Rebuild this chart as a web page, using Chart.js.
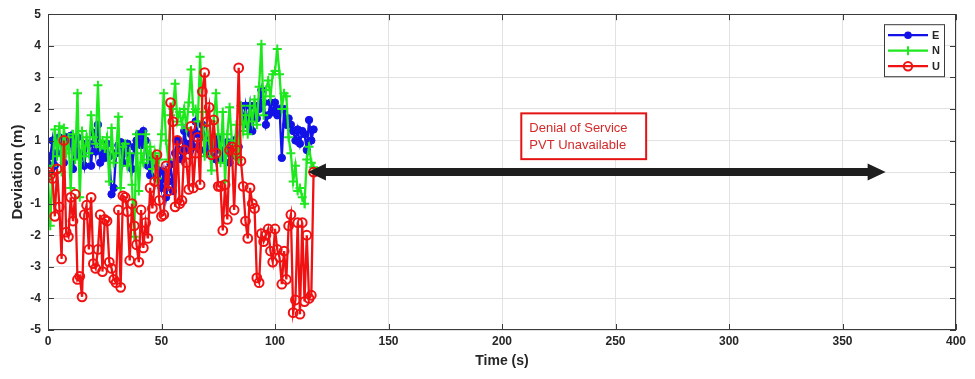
<!DOCTYPE html>
<html>
<head>
<meta charset="utf-8">
<script src="https://cdn.jsdelivr.net/npm/chart.js@4.4.1/dist/chart.umd.min.js"></script>
<style>
  html, body { margin: 0; padding: 0; background: #ffffff; }
  #wrap { width: 975px; height: 379px; }
</style>
</head>
<body>
<div id="wrap"><canvas id="chart" width="975" height="379"></canvas></div>
<script>
// Epoch times (s) of the PVT solutions before the jamming outage
const timeS = [
  0, 1, 2, 3, 4, 5, 6, 7, 8, 9,
  10, 11, 12, 13, 14, 15, 16, 17, 18, 19,
  20, 21, 22, 23, 24, 25, 26, 27, 28, 29,
  30, 31, 32, 33, 34, 35, 36, 37, 38, 39,
  40, 41, 42, 43, 44, 45, 46, 47, 48, 49,
  50, 51, 52, 53, 54, 55, 56, 57, 58, 59,
  60, 61, 62, 63, 64, 65, 66, 67, 68, 69,
  70, 71, 72, 73, 74, 75, 76, 77, 78, 79,
  80, 81, 82, 83, 84, 85, 86, 87, 88, 89,
  90, 91, 92, 93, 94, 95, 96, 97, 98, 99,
  100, 101, 102, 103, 104, 105, 106, 107, 108, 109,
  110, 111, 112, 113, 114, 115, 116, 117
];

// East deviation (m)
const devE = [
  0.25, 0.5, 1.0, 0.2, 0.6, 1.1, 1.05, 0.3, 1.1, 0.9,
  1.15, 0.1, 0.7, 1.1, 0.5, 0.6, 0.2, 0.9, 0.9, 0.2,
  1.25, 0.65, 1.5, 0.3, 0.6, 0.45, 0.9, 0.5, -0.7, -0.5,
  0.6, 0.85, 0.95, 0.3, 0.7, 0.9, 0.5, 0.1, 0.8, 1.0,
  1.2, 0.85, 1.3, 1.0, 0.2, -0.1, 0.4, 0.3, -0.2, 0.05,
  -0.5, 0.0, -0.8, -0.3, 0.25, -0.6, 0.6, 1.0, 0.7, 0.4,
  1.3, 0.9, 0.7, 1.2, 0.8, 1.6, 1.2, 0.7, 1.5, 1.1,
  0.6, 0.9, 0.5, 0.9, 0.4, 1.05, 0.7, 0.4, 0.6, 0.95,
  0.3, 0.7, 1.0, 0.5, 0.8, 2.1, 1.6, 2.1, 1.5, 2.1,
  1.3, 2.1, 1.7, 2.0, 2.6, 2.2, 1.5, 1.8, 2.2, 1.9,
  2.2, 1.8, 2.0, 0.45, 2.0, 1.5, 1.7, 1.5, 1.3, 1.0,
  1.35, 0.9, 1.3, 1.2, 0.7, 1.65, 1.0, 1.35
];

// North deviation (m)
const devN = [
  -0.2, -1.7, 0.2, 1.35, 0.5, 1.45, 0.0, 1.4, 0.6, 1.1,
  -0.5, 1.2, 0.4, 2.5, -0.8, 1.3, 0.5, 1.1, 0.6, 1.8,
  1.1, 0.9, 2.75, 0.8, 1.0, 0.75, 1.1, -0.3, 1.4, 0.3,
  0.6, 1.75, -0.5, 0.8, 0.9, 0.2, 0.6, -0.4, -2.05, 1.2,
  -0.6, 0.6, 0.3, 1.2, 0.4, 0.8, 0.1, 0.6, -0.2, 0.4,
  1.2, 2.5, 1.0, 0.4, 1.8, 2.0, 2.8, 1.6, 1.9, 1.5,
  2.0, 1.4, 2.2, 3.25, 1.9, 2.0, 1.6, 3.65, 1.9, 0.5,
  1.5, 1.0, 0.05, 1.6, 2.5, 1.2, 0.3, 1.9, -0.3, 1.2,
  2.05, 1.0, 0.6, 1.5, 0.4, 2.1, 1.3, 1.8, 1.2, 2.1,
  1.6, 2.3, 1.5, 2.7, 4.05, 1.8, 2.6, 2.9, 2.4, 3.1,
  3.2, 3.9, 3.1, 2.0, 2.5, 2.4, 1.1, 0.6, -0.3, 0.2,
  -0.6, -0.5, -0.8, -1.0, 0.4, 0.8, 0.3, 0.15
];

// Up deviation (m)
const devU = [
  0.0, -0.1, -0.2, -1.4, 0.1, -1.1, -2.75, 1.0, -1.9, -2.05,
  -0.8, -1.55, -0.7, -3.4, -3.3, -3.95, -1.35, -1.05, -2.45, -0.8,
  -2.9, -3.05, -2.45, -1.35, -3.15, -1.5, -1.55, -2.85, -3.05, -3.4,
  -3.5, -1.2, -3.65, -0.75, -0.8, -1.25, -2.8, -1.0, -1.7, -2.3,
  -2.85, -1.2, -2.4, -1.6, -2.1, -0.5, -1.15, -0.3, 0.55, -0.9,
  -1.4, -1.35, 0.2, -0.6, 2.2, 1.6, -1.1, 1.0, -1.0, -0.9,
  0.7, 0.3, -0.55, 1.45, -0.5, 0.6, 1.1, -0.4, 2.55, 3.15,
  1.6, 2.05, 0.55, 1.65, 0.6, -0.45, -0.45, -1.85, -0.4, -1.5,
  0.7, 0.8, -1.2, 0.7, 3.3, 0.35, -0.45, -1.55, -2.1, -0.5,
  -1.0, -1.15, -3.35, -3.5, -1.95, -2.2, -2.0, -1.8, -2.5, -2.85,
  -1.8, -2.45, -2.7, -3.55, -2.5, -3.4, -1.7, -1.35, -4.45, -4.05,
  -1.6, -4.5, -1.6, -4.1, -2.0, -4.0, -3.9, 0.0
];

const xTickValues = [0, 50, 100, 150, 200, 250, 300, 350, 400];
const yTickValues = [-5, -4, -3, -2, -1, 0, 1, 2, 3, 4, 5];
const seriesNames = ['E', 'N', 'U'];
const outageNote = ['Denial of Service', 'PVT Unavailable'];
const outageStart = 114.5;   // s, last fix
const outageEnd = 369;       // s

const FONT = '"Liberation Sans", Arial, Helvetica, sans-serif';
const INK = '#262626';
const colE = '#1212e8';
const colN = '#1ee81e';
const colU = '#f01212';

const toXY = ys => ys.map((y, i) => ({ x: timeS[i], y }));

// Box, inward ticks, legend, outage arrow and note
const decorations = {
  id: 'decorations',
  afterDatasetsDraw(chart) {
    const { ctx, chartArea: a, scales: { x, y } } = chart;
    ctx.save();

    // double-headed outage arrow along y = 0
    const ay = y.getPixelForValue(0);
    const x1 = x.getPixelForValue(outageStart);
    const x2 = x.getPixelForValue(outageEnd);
    const hl = 18, hh = 8.5, sh = 4;
    ctx.fillStyle = '#1e1e1e';
    ctx.beginPath();
    ctx.moveTo(x1, ay);
    ctx.lineTo(x1 + hl, ay - hh);
    ctx.lineTo(x1 + hl, ay - sh);
    ctx.lineTo(x2 - hl, ay - sh);
    ctx.lineTo(x2 - hl, ay - hh);
    ctx.lineTo(x2, ay);
    ctx.lineTo(x2 - hl, ay + hh);
    ctx.lineTo(x2 - hl, ay + sh);
    ctx.lineTo(x1 + hl, ay + sh);
    ctx.lineTo(x1 + hl, ay + hh);
    ctx.closePath();
    ctx.fill();

    // outage note
    const bx1 = x.getPixelForValue(208.5), bx2 = x.getPixelForValue(263.5);
    const by1 = y.getPixelForValue(1.86), by2 = y.getPixelForValue(0.41);
    ctx.fillStyle = '#ffffff';
    ctx.fillRect(bx1, by1, bx2 - bx1, by2 - by1);
    ctx.strokeStyle = '#e41414';
    ctx.lineWidth = 2;
    ctx.strokeRect(bx1, by1, bx2 - bx1, by2 - by1);
    ctx.fillStyle = '#d42a2a';
    ctx.font = '13px ' + FONT;
    ctx.textAlign = 'left';
    ctx.textBaseline = 'middle';
    outageNote.forEach((t, i) => ctx.fillText(t, bx1 + 8, by1 + 15 + i * 17));

    // axes box
    ctx.strokeStyle = '#3a3a3a';
    ctx.lineWidth = 1;
    ctx.strokeRect(Math.round(a.left) + 0.5, Math.round(a.top) + 0.5,
      Math.round(a.right - a.left) - 1, Math.round(a.bottom - a.top) - 1);

    // inward tick marks on all four sides
    const tl = 6;
    ctx.beginPath();
    xTickValues.forEach(v => {
      const px = Math.round(x.getPixelForValue(v)) + 0.5;
      ctx.moveTo(px, a.bottom); ctx.lineTo(px, a.bottom - tl);
      ctx.moveTo(px, a.top); ctx.lineTo(px, a.top + tl);
    });
    yTickValues.forEach(v => {
      const py = Math.round(y.getPixelForValue(v)) + 0.5;
      ctx.moveTo(a.left, py); ctx.lineTo(a.left + tl, py);
      ctx.moveTo(a.right, py); ctx.lineTo(a.right - tl, py);
    });
    ctx.stroke();

    // legend
    const lx = a.right - 72, ly = a.top + 10, lw = 60, lh = 52;
    ctx.fillStyle = '#ffffff';
    ctx.fillRect(lx, ly, lw, lh);
    ctx.strokeStyle = '#3a3a3a';
    ctx.lineWidth = 1;
    ctx.strokeRect(lx + 0.5, ly + 0.5, lw, lh);
    const cols = [colE, colN, colU];
    ctx.font = 'bold 11px ' + FONT;
    ctx.textBaseline = 'middle';
    seriesNames.forEach((name, i) => {
      const ry = ly + 11 + i * 15.5;
      const c = cols[i];
      ctx.strokeStyle = c;
      ctx.lineWidth = 2.2;
      ctx.beginPath();
      ctx.moveTo(lx + 4, ry); ctx.lineTo(lx + 44, ry);
      ctx.stroke();
      const mx = lx + 24;
      if (i === 0) {
        ctx.fillStyle = c;
        ctx.beginPath(); ctx.arc(mx, ry, 3.8, 0, Math.PI * 2); ctx.fill();
      } else if (i === 1) {
        ctx.lineWidth = 2;
        ctx.beginPath();
        ctx.moveTo(mx, ry - 4.5); ctx.lineTo(mx, ry + 4.5);
        ctx.stroke();
      } else {
        ctx.lineWidth = 2;
        ctx.beginPath(); ctx.arc(mx, ry, 4.2, 0, Math.PI * 2); ctx.stroke();
      }
      ctx.fillStyle = INK;
      ctx.textAlign = 'left';
      ctx.fillText(name, lx + 48, ry + 0.5);
    });

    ctx.restore();
  }
};

const tickFont = { family: FONT, size: 12, weight: 'bold' };

new Chart(document.getElementById('chart'), {
  type: 'line',
  data: {
    datasets: [
      {
        label: seriesNames[0], data: toXY(devE), order: 3,
        borderColor: colE, backgroundColor: colE, borderWidth: 2.3,
        pointStyle: 'circle', pointRadius: 3.7, pointBorderWidth: 1,
        pointBackgroundColor: colE, pointBorderColor: colE
      },
      {
        label: seriesNames[1], data: toXY(devN), order: 2,
        borderColor: colN, backgroundColor: colN, borderWidth: 2.3,
        pointStyle: 'cross', pointRadius: 4.5, pointBorderWidth: 2,
        pointBorderColor: colN
      },
      {
        label: seriesNames[2], data: toXY(devU), order: 1,
        borderColor: colU, backgroundColor: 'rgba(0,0,0,0)', borderWidth: 2.3,
        pointStyle: 'circle', pointRadius: 4.4, pointBorderWidth: 2,
        pointBackgroundColor: 'rgba(0,0,0,0)', pointBorderColor: colU
      }
    ]
  },
  options: {
    responsive: false,
    animation: false,
    devicePixelRatio: 1,
    layout: { padding: { left: 0, right: 19, top: 13, bottom: 0 } },
    plugins: { legend: { display: false }, tooltip: { enabled: false } },
    elements: { line: { tension: 0 } },
    scales: {
      x: {
        type: 'linear', min: 0, max: 400,
        afterBuildTicks: s => { s.ticks = xTickValues.map(v => ({ value: v })); },
        afterFit: s => { s.height = 49; },
        grid: { color: '#e2e2e2', lineWidth: 1, drawTicks: false },
        border: { display: false },
        ticks: { font: tickFont, color: INK, padding: 4, maxRotation: 0 },
        title: {
          display: true, text: 'Time (s)', color: INK,
          font: { family: FONT, size: 14, weight: 'bold' },
          padding: { top: 0, bottom: 9 }
        }
      },
      y: {
        type: 'linear', min: -5, max: 5,
        afterBuildTicks: s => { s.ticks = yTickValues.map(v => ({ value: v })); },
        afterFit: s => { s.width = 48; },
        grid: { color: '#e2e2e2', lineWidth: 1, drawTicks: false },
        border: { display: false },
        ticks: { font: tickFont, color: INK, padding: 7 },
        title: {
          display: true, text: 'Deviation (m)', color: INK,
          font: { family: FONT, size: 15, weight: 'bold' },
          padding: { top: 9, bottom: 0 }
        }
      }
    }
  },
  plugins: [decorations]
});
</script>
</body>
</html>
